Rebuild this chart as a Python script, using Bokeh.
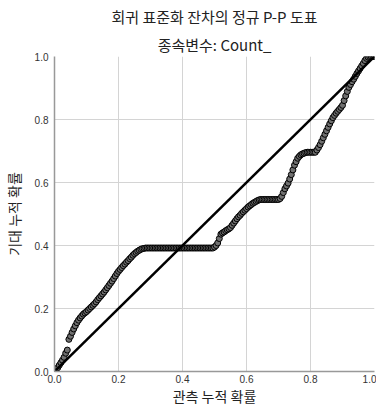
from bokeh.plotting import figure
from bokeh.models import FixedTicker, NumeralTickFormatter, Range1d, Title
from bokeh.embed import file_html
from bokeh.resources import INLINE

# Observed cumulative probability (x) and expected cumulative probability (y)
observed = [
    0.000, 0.005, 0.010, 0.015, 0.020, 0.025, 0.030, 0.035, 0.040, 0.045,
    0.050, 0.055, 0.060, 0.065, 0.070, 0.075, 0.080, 0.085, 0.090, 0.095,
    0.100, 0.105, 0.110, 0.115, 0.120, 0.125, 0.130, 0.135, 0.140, 0.145,
    0.150, 0.155, 0.160, 0.165, 0.170, 0.175, 0.180, 0.185, 0.190, 0.195,
    0.200, 0.205, 0.210, 0.215, 0.220, 0.225, 0.230, 0.235, 0.240, 0.245,
    0.250, 0.255, 0.260, 0.265, 0.270, 0.275, 0.280, 0.285, 0.290, 0.295,
    0.300, 0.305, 0.310, 0.315, 0.320, 0.325, 0.330, 0.335, 0.340, 0.345,
    0.350, 0.355, 0.360, 0.365, 0.370, 0.375, 0.380, 0.385, 0.390, 0.395,
    0.400, 0.405, 0.410, 0.415, 0.420, 0.425, 0.430, 0.435, 0.440, 0.445,
    0.450, 0.455, 0.460, 0.465, 0.470, 0.475, 0.480, 0.485, 0.490, 0.495,
    0.500, 0.505, 0.510, 0.515, 0.520, 0.525, 0.530, 0.535, 0.540, 0.545,
    0.550, 0.555, 0.560, 0.565, 0.570, 0.575, 0.580, 0.585, 0.590, 0.595,
    0.600, 0.605, 0.610, 0.615, 0.620, 0.625, 0.630, 0.635, 0.640, 0.645,
    0.650, 0.655, 0.660, 0.665, 0.670, 0.675, 0.680, 0.685, 0.690, 0.695,
    0.700, 0.705, 0.710, 0.715, 0.720, 0.725, 0.730, 0.735, 0.740, 0.745,
    0.750, 0.755, 0.760, 0.765, 0.770, 0.775, 0.780, 0.785, 0.790, 0.795,
    0.800, 0.805, 0.810, 0.815, 0.820, 0.825, 0.830, 0.835, 0.840, 0.845,
    0.850, 0.855, 0.860, 0.865, 0.870, 0.875, 0.880, 0.885, 0.890, 0.895,
    0.900, 0.905, 0.910, 0.915, 0.920, 0.925, 0.930, 0.935, 0.940, 0.945,
    0.950, 0.955, 0.960, 0.965, 0.970, 0.975, 0.980, 0.985, 0.990, 0.995,
    1.000,
]
expected = [
    0.000, 0.006, 0.012, 0.020, 0.028, 0.036, 0.045, 0.058, 0.068, 0.102,
    0.112, 0.124, 0.135, 0.145, 0.155, 0.163, 0.170, 0.176, 0.182, 0.186,
    0.190, 0.195, 0.200, 0.205, 0.210, 0.215, 0.221, 0.228, 0.234, 0.240,
    0.246, 0.252, 0.259, 0.266, 0.273, 0.280, 0.287, 0.295, 0.303, 0.311,
    0.318, 0.324, 0.330, 0.336, 0.341, 0.347, 0.352, 0.358, 0.363, 0.369,
    0.374, 0.378, 0.382, 0.385, 0.388, 0.390, 0.391, 0.392, 0.392, 0.392,
    0.392, 0.392, 0.392, 0.392, 0.392, 0.392, 0.392, 0.392, 0.392, 0.392,
    0.392, 0.392, 0.392, 0.392, 0.392, 0.392, 0.392, 0.392, 0.392, 0.392,
    0.392, 0.392, 0.392, 0.392, 0.392, 0.392, 0.392, 0.392, 0.392, 0.392,
    0.392, 0.392, 0.392, 0.392, 0.392, 0.392, 0.392, 0.392, 0.392, 0.392,
    0.395, 0.400, 0.408, 0.422, 0.436, 0.440, 0.443, 0.447, 0.450, 0.453,
    0.457, 0.464, 0.471, 0.478, 0.485, 0.491, 0.496, 0.502, 0.507, 0.512,
    0.517, 0.522, 0.526, 0.530, 0.534, 0.537, 0.540, 0.543, 0.545, 0.546,
    0.546, 0.546, 0.546, 0.546, 0.546, 0.546, 0.546, 0.546, 0.546, 0.546,
    0.546, 0.549, 0.556, 0.568, 0.580, 0.589, 0.598, 0.611, 0.625, 0.640,
    0.655, 0.666, 0.677, 0.683, 0.688, 0.691, 0.693, 0.695, 0.696, 0.696,
    0.696, 0.696, 0.696, 0.696, 0.703, 0.711, 0.720, 0.731, 0.742, 0.753,
    0.764, 0.775, 0.786, 0.796, 0.806, 0.813, 0.820, 0.826, 0.832, 0.838,
    0.845, 0.860, 0.875, 0.889, 0.902, 0.911, 0.920, 0.928, 0.937, 0.946,
    0.954, 0.962, 0.970, 0.978, 0.987, 0.994, 0.998, 1.000, 1.000, 1.000,
    1.000,
]
ref_x = [0.0, 1.0]
ref_y = [0.0, 1.0]
tick_values = [0.0, 0.2, 0.4, 0.6, 0.8, 1.0]

KR = "Noto Sans CJK KR"

p = figure(width=376, height=408, output_backend="svg", toolbar_location=None,
           x_range=Range1d(0, 1), y_range=Range1d(0, 1),
           min_border_left=50, min_border_right=2, min_border_top=50,
           min_border_bottom=30)
p.outline_line_color = None
p.background_fill_color = "white"

for ax in (p.xaxis, p.yaxis):
    ax.ticker = FixedTicker(ticks=tick_values)
    ax.formatter = NumeralTickFormatter(format="0.0")
    ax.major_tick_line_color = None
    ax.minor_tick_line_color = None
    ax.major_tick_out = 0
    ax.major_tick_in = 0
    ax.minor_tick_out = 0
    ax.minor_tick_in = 0
    ax.axis_line_color = "#999999"
    ax.axis_line_width = 1.5
    ax.major_label_text_font = "Liberation Sans"
    ax.major_label_text_font_size = "10px"
    ax.major_label_text_color = "#333333"
    ax.axis_label_text_font = KR
    ax.axis_label_text_font_size = "14px"
    ax.axis_label_text_font_style = "normal"
    ax.axis_label_text_color = "#222222"

p.xaxis.axis_label = "관측 누적 확률"
p.yaxis.axis_label = "기대 누적 확률"
p.xaxis.major_label_standoff = 3
p.xaxis.axis_label_standoff = 0
p.yaxis.major_label_standoff = 6
p.yaxis.axis_label_standoff = 8

for g in (p.xgrid, p.ygrid):
    g.ticker = FixedTicker(ticks=tick_values)
    g.grid_line_color = "#d4d4d4"
    g.grid_line_width = 1

p.scatter(observed, expected, size=6, fill_color="#707070",
          line_color="black", line_width=1)
p.line(ref_x, ref_y, line_color="black", line_width=2.5)

# Titles: subtitle (nearest the frame) first, then the main title above it
subtitle = Title(text="종속변수: Count_", align="center", offset=-25,
                 text_font=KR, text_font_size="15px",
                 text_font_style="normal", text_color="#222222", standoff=3)
maintitle = Title(text="회귀 표준화 잔차의 정규 P-P 도표", align="center",
                  offset=-25, text_font=KR, text_font_size="15px",
                  text_font_style="normal", text_color="#222222", standoff=7)
p.add_layout(subtitle, "above")
p.add_layout(maintitle, "above")

open("out.html", "w").write(file_html(p, INLINE))
